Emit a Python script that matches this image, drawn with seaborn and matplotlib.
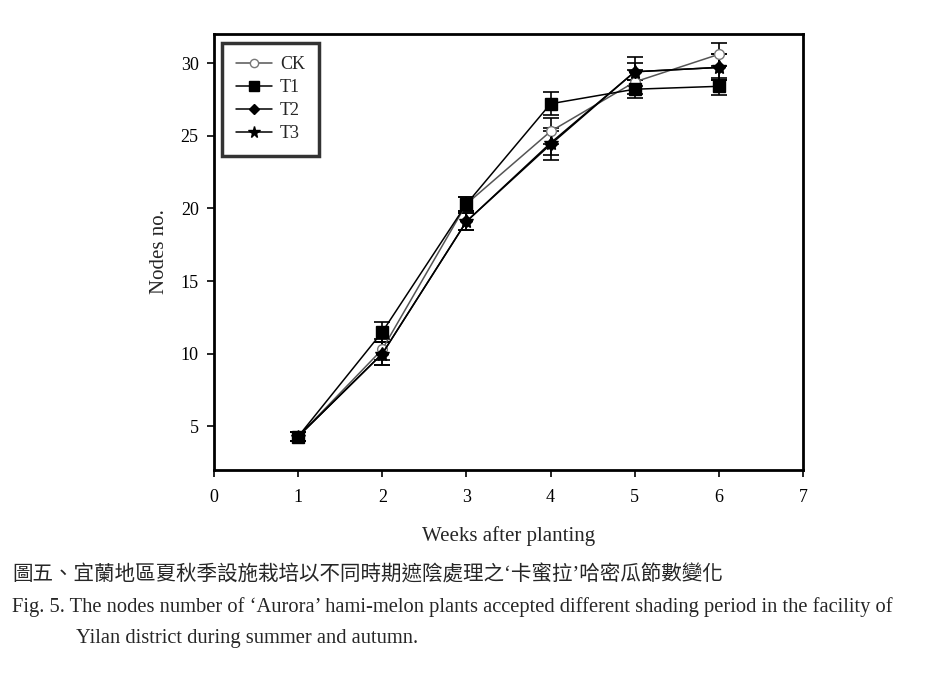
import seaborn as sns
import matplotlib
matplotlib.use('Agg')
import matplotlib.pyplot as plt
from matplotlib.lines import Line2D

weeks = [1, 2, 3, 4, 5, 6]
ck = [4.3, 10.3, 20.3, 25.3, 28.7, 30.6]
t1 = [4.3, 11.5, 20.3, 27.2, 28.2, 28.4]
t2 = [4.3, 10.0, 19.1, 24.4, 29.4, 29.7]
t3 = [4.3, 10.0, 19.1, 24.5, 29.4, 29.7]
ck_err = [0.3, 0.7, 0.5, 0.9, 0.8, 0.8]
t1_err = [0.3, 0.7, 0.5, 0.8, 0.6, 0.6]
t2_err = [0.3, 0.8, 0.6, 1.1, 0.6, 0.9]
t3_err = [0.3, 0.8, 0.6, 0.8, 1.0, 0.9]
labels = ['CK', 'T1', 'T2', 'T3']

caption_zh = '圖五、宜蘭地區夏秋季設施栽培以不同時期遮陰處理之‘卡蜜拉’哈密瓜節數變化'
caption_en1 = 'Fig. 5. The nodes number of ‘Aurora’ hami-melon plants accepted different shading period in the facility of'
caption_en2 = 'Yilan district during summer and autumn.'

sns.set_theme(style='ticks')
plt.rcParams['font.family'] = ['Liberation Serif', 'Noto Sans CJK TC', 'DejaVu Sans']

fig = plt.figure(figsize=(9.28, 6.84), dpi=100)
ax = fig.add_axes([0.2306, 0.3129, 0.6347, 0.6374])

series = [
    (ck, ck_err, 'o', 'white', '#777777', '#555555', 7),
    (t1, t1_err, 's', 'black', 'black', 'black', 9),
    (t2, t2_err, 'D', 'black', 'black', 'black', 6),
    (t3, t3_err, '*', 'black', 'black', 'black', 10),
]
handles = []
for (vals, errs, mk, fc, ec, lc, ms), lab in zip(series, labels):
    ax.errorbar(weeks, vals, yerr=errs, fmt='none', ecolor='black',
                elinewidth=1.2, capsize=6, capthick=1.2, zorder=2)
    sns.lineplot(x=weeks, y=vals, ax=ax, color=lc, linewidth=1.1,
                 marker=mk, markersize=ms, markerfacecolor=fc,
                 markeredgecolor=ec, markeredgewidth=1, legend=False, zorder=3)
    handles.append(Line2D([0], [0], color=lc, linewidth=1.1, marker=mk,
                          markersize=ms * 0.85, markerfacecolor=fc,
                          markeredgecolor=ec, label=lab))

ax.set_xlim(0, 7)
ax.set_ylim(2, 32)
ax.set_xticks(range(0, 8))
ax.set_yticks([5, 10, 15, 20, 25, 30])
ax.tick_params(axis='both', direction='out', length=5, width=1.2,
               labelsize=13, colors='black', pad=6)
ax.tick_params(axis='x', pad=9)
for s in ax.spines.values():
    s.set_linewidth(2)
    s.set_color('black')
    s.set_visible(True)

ax.set_xlabel('Weeks after planting', fontsize=15, labelpad=14)
ax.set_ylabel('Nodes no.', fontsize=15, labelpad=8)

leg = ax.legend(handles=handles, loc='upper left', bbox_to_anchor=(0.008, 0.988),
                fontsize=13, frameon=True, fancybox=False, handlelength=2.0,
                borderpad=0.75, labelspacing=0.33, handletextpad=0.45,
                borderaxespad=0.2)
leg.get_frame().set_edgecolor('black')
leg.get_frame().set_linewidth(2.5)

fig.text(12 / 928, 1 - 576 / 684, caption_zh, fontsize=14.8,
         family=['Liberation Serif', 'Noto Sans CJK TC', 'DejaVu Sans'],
         va='center', ha='left')
fig.text(12 / 928, 1 - 607 / 684, caption_en1, fontsize=14.8, va='center', ha='left')
fig.text(76 / 928, 1 - 639 / 684, caption_en2, fontsize=14.8, va='center', ha='left')

fig.savefig('out.png', dpi=100)
